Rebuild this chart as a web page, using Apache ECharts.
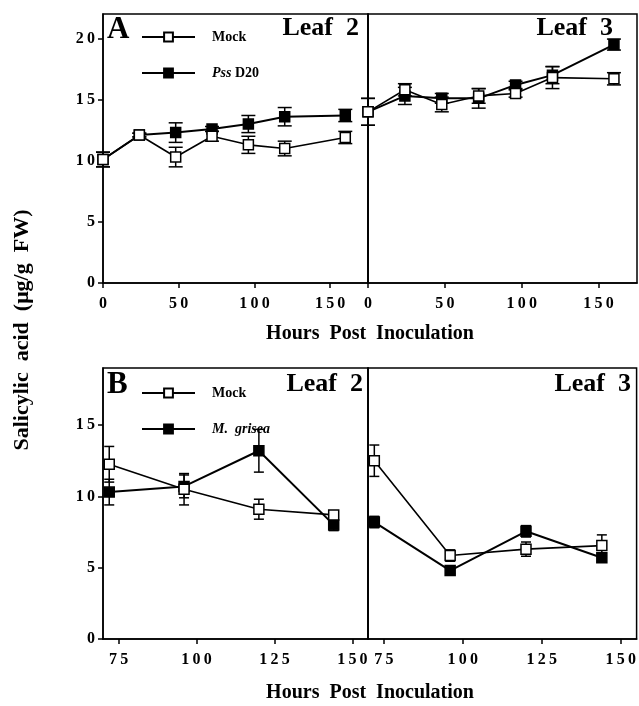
<!DOCTYPE html>
<html>
<head>
<meta charset="utf-8">
<script src="https://cdn.jsdelivr.net/npm/echarts@6/dist/echarts.min.js"></script>
<style>
html, body { margin: 0; padding: 0; background: #fff; }
#chart { width: 639px; height: 706px; }
</style>
</head>
<body>
<div id="chart"></div>
<script>
// panel A: hours post inoculation, Pss D20
var hoursA = [0, 24, 48, 72, 96, 120, 160]
var aLeaf2Mock = [10.1, 12.1, 10.3, 12.0, 11.3, 11.0, 11.9]
var aLeaf2MockErr = [0.6, 0.15, 0.8, 0.4, 0.7, 0.6, 0.5]
var aLeaf2Pss = [10.1, 12.1, 12.3, 12.6, 13.0, 13.6, 13.7]
var aLeaf2PssErr = [0.6, 0.15, 0.8, 0.2, 0.7, 0.75, 0.5]
var aLeaf3Mock = [14.0, 15.8, 14.6, 15.3, 15.5, 16.8, 16.7]
var aLeaf3MockErr = [1.1, 0.5, 0.6, 0.6, 0.3, 0.9, 0.5]
var aLeaf3Pss = [14.0, 15.3, 15.1, 15.1, 16.2, 17.0, 19.5]
var aLeaf3PssErr = [1.1, 0.7, 0.4, 0.8, 0.3, 0.7, 0.45]

// panel B: M. grisea
var hoursB = [72, 96, 120, 144]
var bLeaf2Mock = [12.25, 10.5, 9.1, 8.7]
var bLeaf2MockErr = [1.25, 1.1, 0.7, 0.2]
var bLeaf2Mg = [10.3, 10.7, 13.2, 8.0]
var bLeaf2MgErr = [0.9, 0.8, 1.5, 0.4]
var bLeaf3Mock = [12.5, 5.85, 6.3, 6.55]
var bLeaf3MockErr = [1.1, 0.4, 0.5, 0.75]
var bLeaf3Mg = [8.2, 4.8, 7.55, 5.7]
var bLeaf3MgErr = [0.4, 0.2, 0.4, 0.3]

var ticksA = [0, 50, 100, 150]
var ticksB = [75, 100, 125, 150]

var FONT = 'Liberation Serif'

function spaced(v) {
  return String(v).split('').join('\u2009')
}

function pairs(xs, ys) {
  return xs.map(function (x, i) { return [x, ys[i]] })
}

function triples(xs, ys, es) {
  return xs.map(function (x, i) { return [x, ys[i], es[i]] })
}

function errBar(cap) {
  return function (params, api) {
    var x = api.value(0), y = api.value(1), e = api.value(2)
    var top = api.coord([x, y + e])
    var bot = api.coord([x, y - e])
    var st = {stroke: '#000', lineWidth: 1.5}
    return {
      type: 'group',
      children: [
        {type: 'line', shape: {x1: top[0], y1: top[1], x2: bot[0], y2: bot[1]}, style: st},
        {type: 'line', shape: {x1: top[0] - cap, y1: top[1], x2: top[0] + cap, y2: top[1]}, style: st},
        {type: 'line', shape: {x1: bot[0] - cap, y1: bot[1], x2: bot[0] + cap, y2: bot[1]}, style: st}
      ]
    }
  }
}

function errSeries(idx, data, cap) {
  return {
    type: 'custom',
    xAxisIndex: idx, yAxisIndex: idx,
    renderItem: errBar(cap),
    encode: {x: 0, y: 1},
    data: data,
    clip: false,
    z: 1,
    silent: true
  }
}

function lineSeries(name, idx, data, filled) {
  return {
    name: name,
    type: 'line',
    xAxisIndex: idx, yAxisIndex: idx,
    data: data,
    symbol: 'rect',
    symbolSize: 10,
    clip: false,
    z: filled ? 3 : 4,
    lineStyle: {color: '#000', width: filled ? 2 : 1.6},
    itemStyle: {color: filled ? '#000' : '#fff', borderColor: '#000', borderWidth: 1.5},
    emphasis: {disabled: true}
  }
}

function xAxis(idx, min, max, ticks) {
  return {
    type: 'value', gridIndex: idx, min: min, max: max,
    splitLine: {show: false},
    axisLine: {show: true, lineStyle: {color: '#000', width: 1.5}},
    axisTick: {show: true, length: 5, customValues: ticks, lineStyle: {color: '#000', width: 1.5}},
    axisLabel: {
      customValues: ticks, color: '#000', fontFamily: FONT, fontWeight: 'bold', fontSize: 16, margin: 13,
      formatter: spaced
    }
  }
}

function yAxis(idx, max, labels) {
  return {
    type: 'value', gridIndex: idx, min: 0, max: max, interval: 5,
    splitLine: {show: false},
    axisLine: {show: true, lineStyle: {color: '#000', width: 1.5}},
    axisTick: {show: labels, length: 5, lineStyle: {color: '#000', width: 1.5}},
    axisLabel: {
      show: labels, color: '#000', fontFamily: FONT, fontWeight: 'bold', fontSize: 16, margin: 8,
      showMaxLabel: false, formatter: spaced
    }
  }
}

var legendText = {
  color: '#000', fontFamily: FONT, fontWeight: 'bold', fontSize: 14,
  rich: {
    n: {fontFamily: FONT, fontWeight: 'bold', fontSize: 14, padding: [0, 0, 0, 12]},
    i: {fontFamily: FONT, fontWeight: 'bold', fontStyle: 'italic', fontSize: 14, padding: [0, 0, 0, 12]},
    d: {fontFamily: FONT, fontWeight: 'bold', fontSize: 14}
  }
}

function legendFmt(name) {
  if (name === 'Pss D20') return '{i|Pss} {d|D20}'
  if (name === 'M. grisea') return '{i|M.  grisea}'
  return '{n|' + name + '}'
}

var chart = echarts.init(document.getElementById('chart'), null, {renderer: 'canvas'})

var option = {
  backgroundColor: '#fff',
  animation: false,
  grid: [
    {left: 103, top: 14, width: 265, height: 269, show: true, borderColor: '#000', borderWidth: 1.5},
    {left: 368, top: 14, width: 269, height: 269, show: true, borderColor: '#000', borderWidth: 1.5},
    {left: 103, top: 368, width: 265, height: 271, show: true, borderColor: '#000', borderWidth: 1.5},
    {left: 368, top: 368, width: 269, height: 271, show: true, borderColor: '#000', borderWidth: 1.5}
  ],
  xAxis: [
    xAxis(0, 0, 175, ticksA),
    xAxis(1, 0, 175, ticksA),
    xAxis(2, 70, 155, ticksB),
    xAxis(3, 70, 155, ticksB)
  ],
  yAxis: [
    yAxis(0, 22, true),
    yAxis(1, 22, false),
    yAxis(2, 19, true),
    yAxis(3, 19, false)
  ],
  legend: [
    {
      data: ['Mock', 'Pss D20'], orient: 'vertical', left: 136, top: 25,
      itemWidth: 53, itemHeight: 11, itemGap: 22, selectedMode: false,
      textStyle: legendText, formatter: legendFmt
    },
    {
      data: ['Mock', 'M. grisea'], orient: 'vertical', left: 136, top: 381,
      itemWidth: 53, itemHeight: 11, itemGap: 22, selectedMode: false,
      textStyle: legendText, formatter: legendFmt
    }
  ],
  graphic: [
    {type: 'text', left: 107, top: 14, style: {text: 'A', font: 'bold 31px "Liberation Serif"', fill: '#000'}},
    {type: 'text', left: 107, top: 369, style: {text: 'B', font: 'bold 31px "Liberation Serif"', fill: '#000'}},
    {type: 'text', right: 639 - 359, top: 15, style: {text: 'Leaf  2', font: 'bold 26px "Liberation Serif"', fill: '#000'}},
    {type: 'text', right: 639 - 613, top: 15, style: {text: 'Leaf  3', font: 'bold 26px "Liberation Serif"', fill: '#000'}},
    {type: 'text', right: 639 - 363, top: 371, style: {text: 'Leaf  2', font: 'bold 26px "Liberation Serif"', fill: '#000'}},
    {type: 'text', right: 639 - 631, top: 371, style: {text: 'Leaf  3', font: 'bold 26px "Liberation Serif"', fill: '#000'}},
    {type: 'text', x: 370, y: 334, style: {text: 'Hours  Post  Inoculation', font: 'bold 20px "Liberation Serif"', fill: '#000', align: 'center', verticalAlign: 'middle'}},
    {type: 'text', x: 370, y: 693, style: {text: 'Hours  Post  Inoculation', font: 'bold 20px "Liberation Serif"', fill: '#000', align: 'center', verticalAlign: 'middle'}},
    {type: 'text', x: 22, y: 330, rotation: Math.PI / 2, style: {text: 'Salicylic  acid  (\u03bcg/g  FW)', font: 'bold 22px "Liberation Serif"', fill: '#000', align: 'center', verticalAlign: 'middle'}}
  ],
  series: [
    errSeries(0, triples(hoursA, aLeaf2Pss, aLeaf2PssErr), 7),
    errSeries(0, triples(hoursA, aLeaf2Mock, aLeaf2MockErr), 7),
    lineSeries('Pss D20', 0, pairs(hoursA, aLeaf2Pss), true),
    lineSeries('Mock', 0, pairs(hoursA, aLeaf2Mock), false),

    errSeries(1, triples(hoursA, aLeaf3Pss, aLeaf3PssErr), 7),
    errSeries(1, triples(hoursA, aLeaf3Mock, aLeaf3MockErr), 7),
    lineSeries('Pss D20', 1, pairs(hoursA, aLeaf3Pss), true),
    lineSeries('Mock', 1, pairs(hoursA, aLeaf3Mock), false),

    errSeries(2, triples(hoursB, bLeaf2Mg, bLeaf2MgErr), 5),
    errSeries(2, triples(hoursB, bLeaf2Mock, bLeaf2MockErr), 5),
    lineSeries('M. grisea', 2, pairs(hoursB, bLeaf2Mg), true),
    lineSeries('Mock', 2, pairs(hoursB, bLeaf2Mock), false),

    errSeries(3, triples(hoursB, bLeaf3Mg, bLeaf3MgErr), 5),
    errSeries(3, triples(hoursB, bLeaf3Mock, bLeaf3MockErr), 5),
    lineSeries('M. grisea', 3, pairs(hoursB, bLeaf3Mg), true),
    lineSeries('Mock', 3, pairs(hoursB, bLeaf3Mock), false)
  ]
}

chart.setOption(option)
</script>
</body>
</html>
